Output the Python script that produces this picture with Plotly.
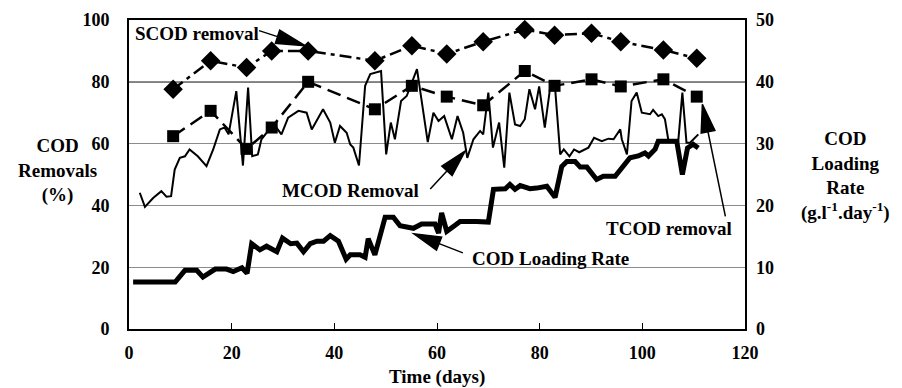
import math
import plotly.graph_objects as go

# ---------------- data ----------------
sample_days = [8.6, 15.9, 22.9, 27.8, 34.9, 47.9, 55.1, 61.9, 69.0, 77.1, 82.9, 90.1, 95.8, 104.1, 110.6]
scod_removal = [77.6, 86.8, 84.6, 90.0, 90.0, 86.8, 91.7, 89.0, 93.0, 96.9, 95.1, 95.7, 93.0, 90.3, 87.6]
tcod_removal = [62.4, 70.6, 58.3, 65.2, 80.0, 71.1, 78.7, 75.2, 72.4, 83.5, 78.7, 80.8, 78.5, 80.8, 75.2]

mcod_days = [2.1, 3.1, 4.7, 6.3, 7.3, 8.2, 8.9, 9.9, 10.9, 11.8, 13.4, 15.1, 16.4, 17.7, 18.6, 19.4,
             20.9, 21.8, 22.2, 23.2, 24.0, 25.1, 25.8, 27.1, 28.7, 29.7, 31.0, 33.0, 34.6, 35.6,
             37.8, 39.2, 40.1, 41.1, 42.4, 43.1, 43.7, 44.8, 46.0, 47.0, 49.1, 50.1, 51.0, 51.8,
             53.0, 54.1, 56.1, 58.2, 59.3, 60.3, 61.4, 62.9, 64.0, 65.1, 65.9, 67.1, 68.4, 69.0,
             70.0, 70.9, 72.1, 73.1, 74.1, 75.2, 76.2, 77.1, 78.0, 79.1, 79.9, 81.0, 82.0, 83.0,
             84.0, 84.7, 85.8, 86.7, 87.7, 89.5, 90.6, 92.1, 93.4, 94.4, 95.7, 96.0, 97.0, 97.9,
             98.9, 99.9, 101.5, 102.1, 103.1, 103.8, 104.4, 105.1, 107.0, 107.8, 108.6, 109.3, 110.9]
mcod_removal = [44.1, 39.5, 42.4, 44.6, 42.8, 43.0, 51.6, 55.4, 55.9, 58.1, 55.9, 52.7, 58.1, 64.6, 65.2, 63.0,
                77.0, 60.8, 52.9, 78.1, 55.9, 56.5, 61.4, 64.1, 65.2, 63.0, 68.4, 70.6, 70.0, 64.6,
                71.1, 66.8, 60.3, 65.7, 63.5, 59.7, 58.7, 52.9, 78.7, 82.5, 83.5, 56.5, 66.8, 61.4,
                73.8, 75.4, 84.1, 60.5, 70.0, 67.3, 68.9, 61.4, 68.9, 63.5, 55.4, 61.4, 64.1, 63.0,
                76.5, 58.7, 66.8, 52.2, 76.5, 66.2, 65.7, 67.9, 77.6, 71.1, 78.5, 65.2, 77.6, 78.1,
                56.5, 58.1, 55.9, 58.1, 57.2, 58.7, 61.9, 60.8, 61.6, 61.4, 64.6, 61.4, 56.5, 73.8,
                76.5, 70.0, 69.5, 70.9, 68.9, 69.5, 67.9, 60.8, 60.8, 76.5, 60.3, 60.3, 63.0]

load_days = [0.8, 9.0, 10.9, 13.2, 14.4, 16.8, 19.0, 20.3, 22.0, 23.0, 23.9, 25.5, 26.8, 28.8, 29.9,
             31.5, 32.7, 34.0, 35.3, 36.6, 37.9, 39.2, 40.8, 42.3, 43.1, 45.0, 46.0, 46.6, 47.9,
             49.9, 51.5, 52.8, 55.4, 57.0, 59.6, 60.3, 60.9, 61.9, 63.2, 64.5, 67.7, 70.0, 71.0,
             73.3, 74.2, 75.2, 76.2, 78.1, 79.4, 81.4, 83.0, 84.3, 85.3, 86.9, 87.9, 89.2, 91.1,
             92.4, 94.7, 96.0, 97.6, 99.2, 100.5, 101.2, 102.5, 103.1, 106.7, 107.8, 108.8, 109.9, 110.9]
load_rate = [7.6, 7.6, 9.5, 9.5, 8.4, 9.7, 9.7, 9.3, 9.9, 9.0, 13.8, 12.8, 13.4, 12.5, 14.7,
             13.8, 13.9, 12.5, 13.8, 14.2, 14.2, 15.1, 14.2, 11.3, 12.0, 12.0, 11.6, 14.6, 12.0,
             18.1, 18.1, 16.7, 16.3, 17.0, 17.0, 15.5, 18.8, 15.8, 16.6, 17.4, 17.4, 17.3, 22.6,
             22.7, 23.4, 22.6, 23.2, 22.7, 22.8, 23.1, 21.3, 26.3, 27.1, 27.1, 26.2, 26.2, 24.2,
             24.7, 24.7, 26.1, 27.7, 28.0, 28.5, 28.0, 29.1, 30.4, 30.4, 25.0, 29.3, 29.9, 29.3]

x_ticks = [0, 20, 40, 60, 80, 100, 120]
left_ticks = [0, 20, 40, 60, 80, 100]
right_ticks = [0, 10, 20, 30, 40, 50]

# ---------------- figure ----------------
FONT = "Liberation Serif"
OFF = 8                       # default page margin around the plot div
W, H = 902 - OFF, 388 - OFF
ML, MR, MT, MB = 129 - OFF, 157, 20 - OFF, 59
PW, PH = W - ML - MR, H - MT - MB

fig = go.Figure()

fig.add_trace(go.Scatter(x=load_days, y=load_rate, yaxis="y2", mode="lines",
                         line=dict(color="black", width=5), name="COD Loading Rate"))
fig.add_trace(go.Scatter(x=mcod_days, y=mcod_removal, mode="lines",
                         line=dict(color="black", width=2), name="MCOD Removal"))
fig.add_trace(go.Scatter(x=sample_days, y=tcod_removal, mode="lines+markers",
                         line=dict(color="black", width=2.5, dash="14px,7px"),
                         marker=dict(symbol="square", size=12, color="black"),
                         name="TCOD removal"))
fig.add_trace(go.Scatter(x=sample_days, y=scod_removal, mode="lines+markers",
                         line=dict(color="black", width=2.5, dash="12px,5px,4px,5px"),
                         marker=dict(symbol="diamond", size=15, color="black"),
                         name="SCOD removal"))

tick_font = dict(family=FONT, size=18, color="black", weight="bold")
text_font = dict(family=FONT, size=19, color="black", weight="bold")

fig.update_layout(
    width=W, height=H,
    margin=dict(l=ML, r=MR, t=MT, b=MB, pad=0, autoexpand=False),
    paper_bgcolor="white", plot_bgcolor="white",
    showlegend=False,
    xaxis=dict(range=[0, 120], tickvals=x_ticks, ticks="inside", ticklen=6, tickcolor="black",
               showgrid=False, zeroline=False, showline=True, linecolor="black", linewidth=2,
               mirror=True, tickfont=tick_font, ticklabelstandoff=6, automargin=False),
    yaxis=dict(range=[0, 100], tickvals=left_ticks, ticks="", showgrid=True,
               gridcolor="#8c8c8c", gridwidth=1, zeroline=False, showline=True,
               linecolor="black", linewidth=2, mirror=True, tickfont=tick_font,
               ticklabelstandoff=14, automargin=False),
    yaxis2=dict(range=[0, 50], tickvals=right_ticks, overlaying="y", side="right",
                ticks="", showgrid=False, zeroline=False, showline=False,
                tickfont=tick_font, ticklabelstandoff=10, automargin=False),
)

# black gridline at 80 %
fig.add_shape(type="line", xref="paper", x0=0, x1=1, yref="y", y0=80, y1=80,
              line=dict(color="black", width=1.3), layer="below")


def px_x(px):
    """page pixel x -> paper x"""
    return (px - OFF - ML) / PW


def px_y(py):
    """page pixel y -> paper y"""
    return (OFF + MT + PH - py) / PH


# axis titles
fig.add_annotation(text="COD<br>Removals<br>(%)", xref="paper", yref="paper",
                   x=px_x(57), y=px_y(170), xanchor="center", yanchor="middle",
                   showarrow=False, font=text_font)
fig.add_annotation(text="COD<br>Loading<br>Rate<br>(g.l<sup>-1</sup>.day<sup>-1</sup>)",
                   xref="paper", yref="paper",
                   x=px_x(845), y=px_y(176), xanchor="center", yanchor="middle",
                   showarrow=False, font=text_font)
fig.add_annotation(text="Time (days)", xref="paper", yref="paper", x=px_x(437),
                   y=px_y(377), xanchor="center", yanchor="middle", showarrow=False,
                   font=text_font)

# series labels
fig.add_annotation(text="SCOD removal", xref="paper", yref="paper", x=px_x(133), y=px_y(33),
                   xanchor="left", yanchor="middle", showarrow=False, font=text_font)
fig.add_annotation(text="MCOD Removal", xref="paper", yref="paper", x=px_x(350), y=px_y(190),
                   xanchor="center", yanchor="middle", showarrow=False, font=text_font)
fig.add_annotation(text="COD Loading Rate", xref="paper", yref="paper", x=px_x(550),
                   y=px_y(258), xanchor="center", yanchor="middle", showarrow=False,
                   font=text_font)
fig.add_annotation(text="TCOD removal", xref="paper", yref="paper", x=px_x(669), y=px_y(228),
                   xanchor="center", yanchor="middle", showarrow=False, font=text_font)


def arrow_path(tail_dx, tail_dy, head_len, half_w):
    """Pixel path relative to the arrow tip; tail offsets given in screen pixels (y down)."""
    tx, ty = tail_dx, -tail_dy  # convert to y-up
    d = math.hypot(tx, ty)
    ux, uy = -tx / d, -ty / d   # unit vector tail -> tip
    bx, by = -head_len * ux, -head_len * uy
    nx, ny = -uy, ux
    p1 = (bx + half_w * nx, by + half_w * ny)
    p2 = (bx - half_w * nx, by - half_w * ny)
    return (f"M{tx:.1f},{ty:.1f} L{bx:.1f},{by:.1f} "
            f"M{p1[0]:.1f},{p1[1]:.1f} L0,0 L{p2[0]:.1f},{p2[1]:.1f} Z")


arrows = [
    # tip (day, %), tail offset px (dx, dy screen), head length, half width
    ((34.3, 91.7), (-46, -15), 29, 7),
    ((65.5, 57.6), (-35, 38), 27, 7),
    ((55.5, 30.8), (49, 19), 27, 7),
    ((111.7, 72.7), (23, 112), 28, 7),
]
for (ax_, ay_), (dx, dy), L, hw in arrows:
    fig.add_shape(type="path", xref="x", yref="y", xsizemode="pixel", ysizemode="pixel",
                  xanchor=ax_, yanchor=ay_, path=arrow_path(dx, dy, L, hw),
                  line=dict(color="black", width=1.5), fillcolor="black", layer="above")

fig.write_html("out.html")
